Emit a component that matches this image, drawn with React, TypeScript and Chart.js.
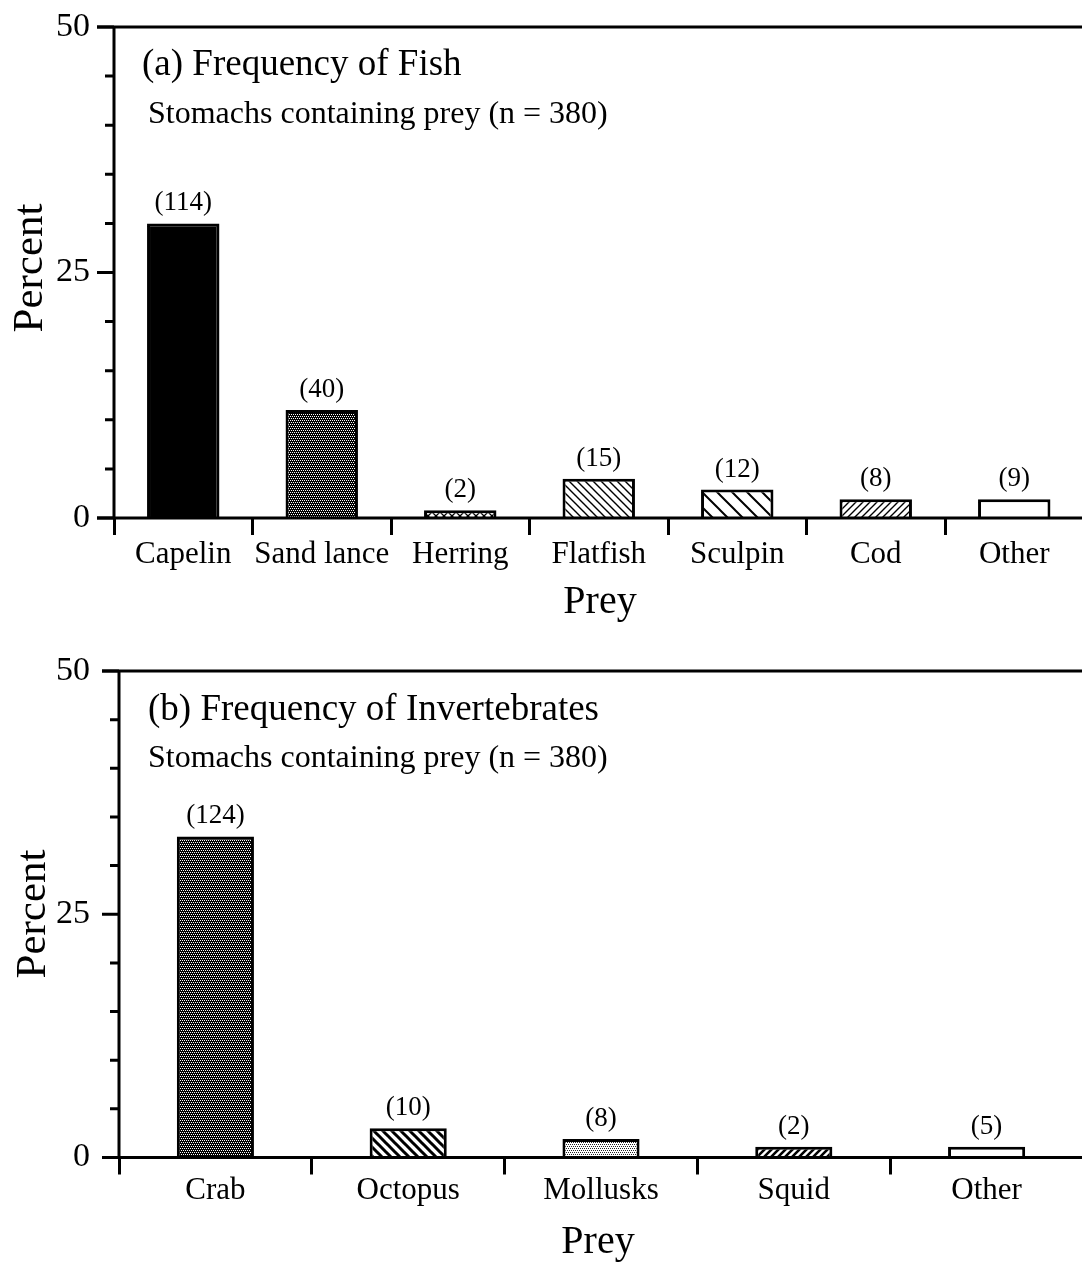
import React, { useEffect, useRef } from 'react';
import { Chart, registerables } from 'chart.js';

Chart.register(...registerables);

// ---------- data ----------
const fishCategories = ['Capelin', 'Sand lance', 'Herring', 'Flatfish', 'Sculpin', 'Cod', 'Other'];
const fishPercent = [30, 11, 0.8, 4.0, 2.9, 1.9, 1.9];
const fishCounts = [114, 40, 2, 15, 12, 8, 9];
const fishFills = ['solid', 'dotsDark', 'cross', 'backslashFine', 'backslashWide', 'slashFine', 'white'];

const invCategories = ['Crab', 'Octopus', 'Mollusks', 'Squid', 'Other'];
const invPercent = [33.0, 3.0, 1.9, 1.1, 1.1];
const invCounts = [124, 10, 8, 2, 5];
const invFills = ['dotsDark', 'backslashBold', 'dotsLight', 'slashBold', 'white'];

const yMin = 0;
const yMax = 50;
const yMinorStep = 5;
const yMajorStep = 25;

const fishTitle = '(a) Frequency of Fish';
const invTitle = '(b) Frequency of Invertebrates';
const subtitle = 'Stomachs containing prey (n = 380)';
const xTitle = 'Prey';
const yTitle = 'Percent';

const SERIF = '"Liberation Serif", "Times New Roman", Times, serif';

type PanelCfg = {
  categories: string[];
  values: number[];
  counts: number[];
  fills: string[];
  title: string;
  top: number;
  height: number;
  areaTop: number;
  areaBottom: number;
  areaLeft: number;
  areaRight: number;
  barFraction: number;
  yTickPad: number;
  xTickPad: number;
  titleX: number;
  titleY: number;
  subX: number;
  subY: number;
  yTitleX: number;
  yTitleY: number;
  xTitleX: number;
  xTitleY: number;
};

const CANVAS_W = 1090;

function buildFills(ctx: CanvasRenderingContext2D) {
  const tile = (size: number, bg: string, draw: (g: CanvasRenderingContext2D, s: number) => void) => {
    const c = document.createElement('canvas');
    c.width = size;
    c.height = size;
    const g = c.getContext('2d') as CanvasRenderingContext2D;
    g.fillStyle = bg;
    g.fillRect(0, 0, size, size);
    draw(g, size);
    return ctx.createPattern(c, 'repeat') as CanvasPattern;
  };
  const lines = (dir: 1 | -1, lw: number) => (g: CanvasRenderingContext2D, s: number) => {
    g.strokeStyle = '#000';
    g.lineWidth = lw;
    g.beginPath();
    for (const c of [-s, 0, s]) {
      if (dir === 1) {
        g.moveTo(-1, c - 1);
        g.lineTo(s + 1, s + c + 1);
      } else {
        g.moveTo(-1, c + s + 1);
        g.lineTo(s + 1, c - 1);
      }
    }
    g.stroke();
  };
  const map: Record<string, string | CanvasPattern> = {
    solid: '#000',
    white: '#fff',
    dotsDark: tile(4, '#000', (g) => {
      g.fillStyle = '#fff';
      g.fillRect(0, 0, 1, 1);
      g.fillRect(2, 0, 1, 1);
      g.fillRect(1, 2, 1, 1);
      g.fillRect(3, 2, 1, 1);
    }),
    dotsLight: tile(4, '#fff', (g) => {
      g.fillStyle = '#222';
      g.fillRect(0, 0, 1, 1);
      g.fillRect(2, 0, 1, 1);
      g.fillRect(1, 2, 1, 1);
      g.fillRect(3, 2, 1, 1);
    }),
    cross: tile(8, '#fff', (g, s) => {
      lines(1, 1.3)(g, s);
      lines(-1, 1.3)(g, s);
    }),
    backslashFine: tile(8, '#fff', lines(1, 1.4)),
    backslashWide: tile(15, '#fff', lines(1, 2)),
    slashFine: tile(7, '#fff', lines(-1, 1.4)),
    backslashBold: tile(9, '#fff', lines(1, 3)),
    slashBold: tile(7, '#fff', lines(-1, 2.6)),
  };
  return map;
}

function makeOverlay(cfg: PanelCfg) {
  return {
    id: 'overlay',
    afterDraw(chart: any) {
      const ctx: CanvasRenderingContext2D = chart.ctx;
      const y = chart.scales.y;
      const ax = chart.chartArea.left;
      const yTop = y.getPixelForValue(yMax);
      const yZero = y.getPixelForValue(yMin);
      ctx.save();
      ctx.strokeStyle = '#000';
      ctx.lineWidth = 3;
      ctx.lineCap = 'butt';
      // frame lines
      ctx.beginPath();
      ctx.moveTo(ax - 17, yTop);
      ctx.lineTo(chart.width, yTop);
      ctx.moveTo(ax - 17, yZero);
      ctx.lineTo(chart.width, yZero);
      ctx.moveTo(ax, yTop - 1.5);
      ctx.lineTo(ax, yZero);
      ctx.stroke();
      // y ticks
      ctx.beginPath();
      for (let v = yMin; v <= yMax; v += yMinorStep) {
        const py = y.getPixelForValue(v);
        const len = v % yMajorStep === 0 ? 17 : 9;
        ctx.moveTo(ax - len, py);
        ctx.lineTo(ax, py);
      }
      ctx.stroke();
      // value labels
      ctx.fillStyle = '#000';
      ctx.font = `27px ${SERIF}`;
      ctx.textAlign = 'center';
      ctx.textBaseline = 'alphabetic';
      const meta = chart.getDatasetMeta(0);
      meta.data.forEach((bar: any, i: number) => {
        ctx.fillText(`(${cfg.counts[i]})`, bar.x, bar.y - 13);
      });
      // titles
      ctx.textAlign = 'left';
      ctx.font = `37px ${SERIF}`;
      ctx.fillText(cfg.title, cfg.titleX, cfg.titleY);
      ctx.font = `32px ${SERIF}`;
      ctx.fillText(subtitle, cfg.subX, cfg.subY);
      // x title
      ctx.textAlign = 'center';
      ctx.font = `40px ${SERIF}`;
      ctx.fillText(xTitle, cfg.xTitleX, cfg.xTitleY);
      // y title
      ctx.translate(cfg.yTitleX, cfg.yTitleY);
      ctx.rotate(-Math.PI / 2);
      ctx.font = `43px ${SERIF}`;
      ctx.fillText(yTitle, 0, 0);
      ctx.restore();
    },
  };
}

function Panel({ cfg }: { cfg: PanelCfg }) {
  const ref = useRef<HTMLCanvasElement | null>(null);
  useEffect(() => {
    const canvas = ref.current;
    if (!canvas) return;
    const ctx = canvas.getContext('2d') as CanvasRenderingContext2D;
    const fillMap = buildFills(ctx);
    const n = cfg.categories.length;
    const chart = new Chart(canvas, {
      type: 'bar',
      data: {
        labels: cfg.categories,
        datasets: [
          {
            data: cfg.values,
            backgroundColor: cfg.fills.map((f) => fillMap[f]) as any,
            borderColor: '#000',
            borderWidth: 3,
            borderSkipped: 'start',
            categoryPercentage: 1,
            barPercentage: cfg.barFraction,
          },
        ],
      },
      options: {
        responsive: false,
        animation: false,
        devicePixelRatio: 1,
        layout: {
          padding: {
            top: cfg.areaTop,
            left: 0,
            right: CANVAS_W - cfg.areaRight,
            bottom: 0,
          },
        },
        plugins: {
          legend: { display: false },
          tooltip: { enabled: false },
          title: { display: false },
        },
        scales: {
          x: {
            type: 'category',
            offset: true,
            border: { display: false },
            grid: {
              display: true,
              drawOnChartArea: false,
              drawTicks: true,
              tickLength: 17,
              offset: true,
              lineWidth: 3,
              tickWidth: 3,
              color: (c: any) => (c.index >= n ? 'rgba(0,0,0,0)' : '#000'),
              tickColor: (c: any) => (c.index >= n ? 'rgba(0,0,0,0)' : '#000'),
            },
            ticks: {
              color: '#000',
              font: { family: SERIF, size: 31 },
              padding: cfg.xTickPad,
              maxRotation: 0,
              autoSkip: false,
            },
            afterFit: (scale: any) => {
              scale.height = cfg.height - cfg.areaBottom;
              scale.paddingLeft = 0;
              scale.paddingRight = 0;
            },
          },
          y: {
            min: yMin,
            max: yMax,
            border: { display: false },
            grid: { display: false, drawTicks: false },
            ticks: {
              stepSize: yMinorStep,
              color: '#000',
              font: { family: SERIF, size: 34 },
              padding: cfg.yTickPad,
              callback: (v: any) => (Number(v) % yMajorStep === 0 ? String(v) : ''),
            },
            afterFit: (scale: any) => {
              scale.width = cfg.areaLeft;
              scale.paddingTop = 0;
              scale.paddingBottom = 0;
            },
          },
        },
      },
      plugins: [makeOverlay(cfg)],
    } as any);
    return () => chart.destroy();
  }, [cfg]);
  return (
    <canvas
      ref={ref}
      width={CANVAS_W}
      height={cfg.height}
      style={{ position: 'absolute', left: 0, top: cfg.top, width: CANVAS_W, height: cfg.height }}
    />
  );
}

const panelA: PanelCfg = {
  categories: fishCategories,
  values: fishPercent,
  counts: fishCounts,
  fills: fishFills,
  title: fishTitle,
  top: 0,
  height: 640,
  areaTop: 27,
  areaBottom: 518,
  areaLeft: 114,
  areaRight: 1083.5,
  barFraction: 0.523,
  yTickPad: 24,
  xTickPad: 1,
  titleX: 142,
  titleY: 75,
  subX: 148,
  subY: 123,
  yTitleX: 42,
  yTitleY: 268,
  xTitleX: 600,
  xTitleY: 613,
};

const panelB: PanelCfg = {
  categories: invCategories,
  values: invPercent,
  counts: invCounts,
  fills: invFills,
  title: invTitle,
  top: 640,
  height: 622,
  areaTop: 31,
  areaBottom: 517.5,
  areaLeft: 119,
  areaRight: 1083,
  barFraction: 0.4,
  yTickPad: 29,
  xTickPad: -2,
  titleX: 148,
  titleY: 80,
  subX: 148,
  subY: 127,
  yTitleX: 45,
  yTitleY: 274,
  xTitleX: 598,
  xTitleY: 613,
};

export default function App() {
  return (
    <div
      style={{
        position: 'absolute',
        left: 0,
        top: 0,
        width: 1082,
        height: 1262,
        overflow: 'hidden',
        background: '#fff',
      }}
    >
      <Panel cfg={panelA} />
      <Panel cfg={panelB} />
    </div>
  );
}
